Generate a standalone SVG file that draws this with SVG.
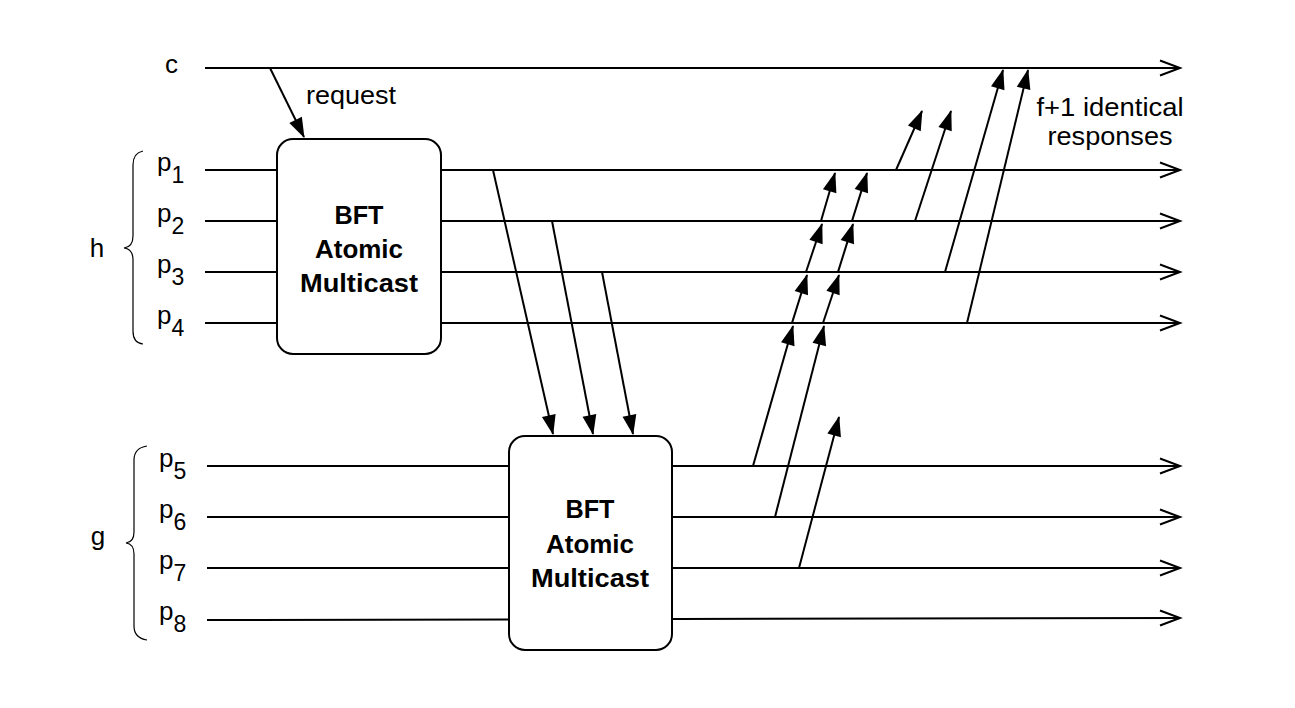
<svg xmlns="http://www.w3.org/2000/svg" width="1295" height="708" viewBox="0 0 1295 708">
<style>
.t{font-family:"Liberation Sans",Arial,sans-serif;font-size:26px;fill:#000}
.lab{font-family:"Liberation Sans",Arial,sans-serif;font-size:26px;fill:#000}
.sub{font-size:23px}
.b{font-family:"Liberation Sans",Arial,sans-serif;font-size:26px;font-weight:bold;fill:#000}
.tl{stroke:#000;stroke-width:2;fill:none;marker-end:url(#open)}
.ar{stroke:#000;stroke-width:2;fill:none;marker-end:url(#solid)}
.box{fill:#fff;stroke:#000;stroke-width:2}
.br{fill:none;stroke:#000;stroke-width:1.2}
</style>
<defs>
<marker id="open" markerUnits="userSpaceOnUse" markerWidth="24" markerHeight="20" refX="20" refY="7.5" orient="auto" overflow="visible">
<path d="M0,0 L20,7.5 L0,15" fill="none" stroke="#000" stroke-width="2"/>
</marker>
<marker id="solid" markerUnits="userSpaceOnUse" markerWidth="22" markerHeight="16" refX="19" refY="7" orient="auto" overflow="visible">
<path d="M0,0 L20,7 L0,14 z" fill="#000"/>
</marker>
</defs>
<rect width="1295" height="708" fill="#fff"/>
<g id="connectors">
<path class="tl" d="M205,68 H1180"/>
<path class="tl" d="M205,170 H1180"/>
<path class="tl" d="M205,221 H1180"/>
<path class="tl" d="M205,272 H1180"/>
<path class="tl" d="M205,323 H1180"/>
<path class="tl" d="M207,466 H1180"/>
<path class="tl" d="M207,517 H1180"/>
<path class="tl" d="M207,568 H1180"/>
<path class="tl" d="M207,620 L1180,618"/>
<path class="ar" d="M270,68 L304,137"/>
<path class="ar" d="M493,170 L553,434"/>
<path class="ar" d="M552,221 L593,434"/>
<path class="ar" d="M602,272 L633,434"/>
<path class="ar" d="M753,466 L793,326"/>
<path class="ar" d="M792,323 L807,275"/>
<path class="ar" d="M806,272 L822,224"/>
<path class="ar" d="M821,221 L835,173"/>
<path class="ar" d="M775,517 L824,326"/>
<path class="ar" d="M823,323 L839,275"/>
<path class="ar" d="M838,272 L853,224"/>
<path class="ar" d="M852,221 L867,173"/>
<path class="ar" d="M799,568 L839,417"/>
<path class="ar" d="M896,170 L922,111"/>
<path class="ar" d="M915,221 L951,111"/>
<path class="ar" d="M945,272 L1003,70"/>
<path class="ar" d="M967,323 L1028,70"/>
</g>
<g id="box1">
<rect class="box" x="277" y="139" width="164" height="215" rx="16"/>
<text class="b" x="359" y="224" text-anchor="middle" textLength="49" lengthAdjust="spacingAndGlyphs">BFT</text>
<text class="b" x="359" y="258" text-anchor="middle" textLength="88" lengthAdjust="spacingAndGlyphs">Atomic</text>
<text class="b" x="359" y="292" text-anchor="middle" textLength="118" lengthAdjust="spacingAndGlyphs">Multicast</text>
</g>
<g id="box2">
<rect class="box" x="509" y="436" width="163" height="214" rx="16"/>
<text class="b" x="590" y="518" text-anchor="middle" textLength="49" lengthAdjust="spacingAndGlyphs">BFT</text>
<text class="b" x="590" y="553" text-anchor="middle" textLength="88" lengthAdjust="spacingAndGlyphs">Atomic</text>
<text class="b" x="590" y="587" text-anchor="middle" textLength="118" lengthAdjust="spacingAndGlyphs">Multicast</text>
</g>
<g id="label-request">
<text class="t" x="351" y="104" text-anchor="middle" textLength="90" lengthAdjust="spacingAndGlyphs">request</text>
</g>
<g id="label-responses">
<text class="t" x="1110" y="116" text-anchor="middle" textLength="147" lengthAdjust="spacingAndGlyphs">f+1 identical</text>
<text class="t" x="1110" y="145" text-anchor="middle" textLength="125" lengthAdjust="spacingAndGlyphs">responses</text>
</g>
<g id="label-c"><text class="lab" x="165" y="73">c</text></g>
<g id="label-p1"><text class="lab" x="157" y="171">p<tspan class="sub" dy="12">1</tspan></text></g>
<g id="label-p2"><text class="lab" x="157" y="222">p<tspan class="sub" dy="12">2</tspan></text></g>
<g id="label-p3"><text class="lab" x="157" y="273">p<tspan class="sub" dy="12">3</tspan></text></g>
<g id="label-p4"><text class="lab" x="157" y="324">p<tspan class="sub" dy="12">4</tspan></text></g>
<g id="label-p5"><text class="lab" x="159" y="467">p<tspan class="sub" dy="12">5</tspan></text></g>
<g id="label-p6"><text class="lab" x="159" y="518">p<tspan class="sub" dy="12">6</tspan></text></g>
<g id="label-p7"><text class="lab" x="159" y="569">p<tspan class="sub" dy="12">7</tspan></text></g>
<g id="label-p8"><text class="lab" x="159" y="620">p<tspan class="sub" dy="12">8</tspan></text></g>
<g id="group-h">
<path class="br" d="M143,151 Q133,153 133,165 L133,236 Q133,247 124,248 Q133,249 133,260 L133,331 Q133,343 143,344"/>
<text class="lab" x="97" y="257" text-anchor="middle">h</text>
</g>
<g id="group-g">
<path class="br" d="M147,446 Q134,448 134,460 L134,532 Q134,542 126,543 Q134,544 134,554 L134,626 Q134,638 147,640"/>
<text class="lab" x="98" y="545" text-anchor="middle">g</text>
</g>
</svg>
